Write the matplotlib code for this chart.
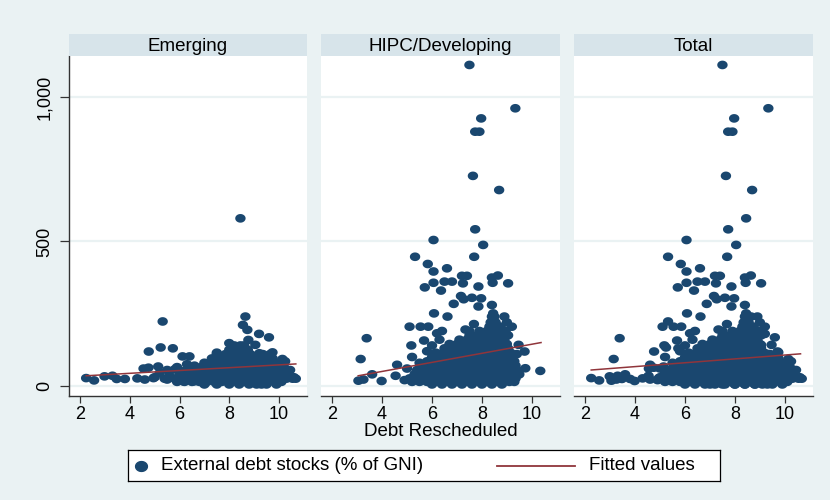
import matplotlib
matplotlib.use("Agg")
import matplotlib.pyplot as plt
import numpy as np
from matplotlib.path import Path
from matplotlib.lines import Line2D

plt.rcParams['font.family'] = ['Liberation Sans', 'DejaVu Sans']

# ---------------- data ----------------
panel_titles = ["Emerging", "HIPC/Developing", "Total"]
x_label = "Debt Rescheduled"
legend_labels = ["External debt stocks (% of GNI)", "Fitted values"]
x_ticks = [2, 4, 6, 8, 10]
y_ticks = [0, 500, 1000]
y_tick_labels = ["0", "500", "1,000"]

# Emerging: scattered points
emerging_pts = [
    (8.45, 580), (8.65, 240), (5.32, 223), (8.55, 211), (8.73, 194), (9.2, 180),
    (9.6, 168), (8.0, 148), (8.77, 159), (9.05, 142), (5.24, 133), (5.73, 130),
    (4.76, 119), (6.12, 102), (6.4, 102), (9.74, 116), (9.21, 113), (10.14, 93),
    (5.14, 67), (4.75, 63), (4.55, 60), (2.24, 27), (2.56, 19), (2.98, 33),
    (3.3, 35), (3.47, 24), (3.8, 24), (4.3, 26), (4.6, 22), (4.95, 27),
    (5.5, 22), (5.8, 57), (6.15, 16), (6.6, 16), (6.95, 22), (5.0, 30),
    (5.2, 45), (5.4, 25), (5.6, 35), (5.9, 20), (5.5, 55), (5.9, 65),
    (6.3, 75), (6.6, 70), (7.5, 115), (10.25, 85), (10.45, 55), (10.6, 30),
]
# Emerging: dense cluster, rows of (y, x positions)
emerging_rows = [
    (5,   [7.0, 7.5, 8.0, 8.4, 8.8, 9.1, 9.3, 9.5, 9.9]),
    (14,  [5.9, 6.2, 6.5, 6.8, 7.1, 7.4, 7.7, 8.0, 8.3, 8.6, 8.9, 9.2, 9.5, 9.8, 10.1]),
    (25,  [5.8, 6.1, 6.4, 6.7, 6.95, 7.2, 7.5, 7.8, 8.1, 8.35, 8.6, 8.9, 9.15, 9.4, 9.7, 10.0, 10.3, 10.55, 10.68]),
    (38,  [6.0, 6.3, 6.6, 6.9, 7.15, 7.4, 7.65, 7.9, 8.2, 8.45, 8.7, 9.0, 9.25, 9.5, 9.8, 10.05, 10.35]),
    (52,  [6.2, 6.5, 6.8, 7.05, 7.3, 7.6, 7.85, 8.1, 8.35, 8.6, 8.85, 9.1, 9.35, 9.6, 9.85, 10.15]),
    (66,  [6.6, 6.9, 7.2, 7.45, 7.7, 7.95, 8.2, 8.45, 8.7, 8.95, 9.2, 9.45, 9.7, 9.95, 10.2]),
    (80,  [7.0, 7.3, 7.55, 7.8, 8.05, 8.3, 8.55, 8.8, 9.05, 9.3, 9.55, 9.8, 10.05]),
    (95,  [7.3, 7.6, 7.9, 8.15, 8.4, 8.65, 8.9, 9.2, 9.5, 9.75]),
    (110, [7.5, 7.85, 8.1, 8.35, 8.6, 8.85, 9.35, 9.65]),
    (125, [8.0, 8.3, 8.5, 8.75]),
    (140, [8.2, 8.45, 8.6]),
]

# HIPC/Developing: scattered points
hipc_pts = [
    (7.5, 1111), (9.34, 961), (7.97, 926), (7.73, 880), (7.9, 880), (7.64, 727),
    (8.69, 678), (7.73, 542), (6.06, 505), (8.05, 488), (5.32, 447), (7.69, 447),
    (5.83, 422), (6.06, 396), (6.6, 407), (7.2, 381), (7.4, 381), (8.4, 375),
    (8.64, 382), (6.06, 357), (5.71, 341), (6.5, 361), (6.8, 361), (7.24, 355),
    (7.86, 344), (8.43, 357), (9.05, 355), (6.36, 330), (7.16, 311), (7.27, 300),
    (7.6, 305), (7.97, 303), (6.87, 284), (7.86, 275), (8.4, 280), (6.08, 251),
    (6.62, 240), (8.45, 251), (5.1, 205), (5.54, 205), (5.85, 205), (7.68, 214),
    (7.34, 195), (6.2, 182), (3.38, 165), (5.17, 140), (5.68, 157), (3.14, 93),
    (9.47, 142), (9.71, 119), (9.74, 61), (10.34, 52), (3.6, 40), (3.98, 17),
    (3.05, 18), (3.25, 22), (4.6, 73), (4.54, 35), (9.1, 35), (4.9, 20),
    (5.0, 60), (5.2, 100), (5.5, 80), (5.8, 120), (6.0, 140), (6.3, 160),
    (7.5, 190), (8.9, 240), (9.0, 220), (9.2, 205), (6.4, 190), (9.4, 110),
]
# HIPC/Developing: dense cluster, rows of (y, x positions)
hipc_rows = [
    (5,   [6.0, 6.4, 6.8, 7.2, 7.6, 8.0, 8.4, 8.8]),
    (14,  [5.2, 5.5, 5.8, 6.1, 6.4, 6.7, 7.0, 7.3, 7.6, 7.9, 8.2, 8.5, 8.8, 9.1, 9.3]),
    (26,  [5.1, 5.35, 5.6, 5.85, 6.1, 6.35, 6.6, 6.85, 7.1, 7.35, 7.6, 7.85, 8.1, 8.35, 8.6, 8.85, 9.1, 9.35]),
    (40,  [5.3, 5.55, 5.8, 6.05, 6.3, 6.55, 6.8, 7.05, 7.3, 7.55, 7.8, 8.05, 8.3, 8.55, 8.8, 9.05, 9.3, 9.5]),
    (55,  [5.4, 5.7, 5.95, 6.2, 6.45, 6.7, 6.95, 7.2, 7.45, 7.7, 7.95, 8.2, 8.45, 8.7, 8.95, 9.2, 9.4]),
    (70,  [5.6, 5.85, 6.1, 6.35, 6.6, 6.85, 7.1, 7.35, 7.6, 7.85, 8.1, 8.35, 8.6, 8.85, 9.1, 9.35]),
    (85,  [5.8, 6.05, 6.3, 6.55, 6.8, 7.05, 7.3, 7.55, 7.8, 8.05, 8.3, 8.55, 8.8, 9.05, 9.3]),
    (100, [6.0, 6.25, 6.5, 6.75, 7.0, 7.25, 7.5, 7.75, 8.0, 8.25, 8.5, 8.75, 9.0, 9.2]),
    (115, [6.15, 6.45, 6.7, 6.95, 7.2, 7.45, 7.7, 7.95, 8.2, 8.45, 8.7, 8.95, 9.15]),
    (130, [6.5, 6.8, 7.05, 7.3, 7.55, 7.8, 8.05, 8.3, 8.55, 8.8, 9.05]),
    (145, [6.7, 7.0, 7.25, 7.5, 7.75, 8.0, 8.25, 8.5, 8.75, 9.0]),
    (160, [7.1, 7.4, 7.65, 7.9, 8.15, 8.4, 8.65, 8.9]),
    (175, [7.5, 7.8, 8.05, 8.3, 8.55, 8.8, 9.05]),
    (190, [7.9, 8.2, 8.45, 8.7, 8.95]),
    (205, [8.3, 8.5, 8.75]),
    (220, [8.35, 8.55]),
    (240, [8.4, 8.5]),
]

# Fitted lines (endpoints)
fit_x = {"Emerging": [2.24, 10.68], "HIPC/Developing": [3.04, 10.37], "Total": [2.24, 10.63]}
fit_y = {"Emerging": [35, 76], "HIPC/Developing": [35, 150], "Total": [55, 111]}

# ---------------- assemble ----------------
def collect(pts, rows):
    xs = [p[0] for p in pts]
    ys = [p[1] for p in pts]
    for yv, xl in rows:
        xs += list(xl)
        ys += [yv] * len(xl)
    return xs, ys

ex, ey = collect(emerging_pts, emerging_rows)
hx, hy = collect(hipc_pts, hipc_rows)
series = {
    "Emerging": (ex, ey),
    "HIPC/Developing": (hx, hy),
    "Total": (ex + hx, ey + hy),
}

# ---------------- style ----------------
BG = "#EAF2F3"
STRIP = "#D7E4EA"
NAVY = "#1A476F"
MAROON = "#90353B"
AXC = "#333333"

# slightly wide ellipse marker
t = np.linspace(0, 2 * np.pi, 40)
ell = Path(np.column_stack([1.2 * np.cos(t), np.sin(t)]), closed=True)

W, H = 830, 500
fig = plt.figure(figsize=(8.3, 5.0), dpi=100, facecolor=BG)

def fx(px):
    return px / W

def fy(py):
    return 1 - py / H

panel_px = [(69, 307), (321, 560), (574, 813)]
top_px, bot_px, strip_top = 56, 396, 34

for i, (name, (l, r)) in enumerate(zip(panel_titles, panel_px)):
    ax = fig.add_axes([fx(l), fy(bot_px), fx(r - l), fy(top_px) - fy(bot_px)])
    ax.set_facecolor("white")
    ax.set_xlim(1.55, 11.13)
    ax.set_ylim(-35, 1142)
    for yt in y_ticks:
        ax.axhline(yt, color=BG, lw=1.6, zorder=1)
    xs, ys = series[name]
    ax.scatter(xs, ys, s=56, marker=ell, color=NAVY, edgecolors="none", zorder=3)
    ax.plot(fit_x[name], fit_y[name], color=MAROON, lw=1.1, zorder=4)
    for sp in ["top", "right"]:
        ax.spines[sp].set_visible(False)
    ax.spines["bottom"].set_color(AXC)
    ax.spines["bottom"].set_linewidth(1.0)
    ax.set_xticks(x_ticks)
    ax.tick_params(axis="x", length=5, width=0.9, color=AXC, labelsize=13, pad=2)
    if i == 0:
        ax.spines["left"].set_color(AXC)
        ax.spines["left"].set_linewidth(1.0)
        ax.set_yticks(y_ticks)
        ax.set_yticklabels(y_tick_labels, rotation=90, va="center")
        ax.tick_params(axis="y", length=6.5, width=0.9, color=AXC, labelsize=13, pad=5)
    else:
        ax.spines["left"].set_visible(False)
        ax.set_yticks([])
    # strip
    sax = fig.add_axes([fx(l), fy(top_px), fx(r - l), fy(strip_top) - fy(top_px)])
    sax.set_facecolor(STRIP)
    sax.set_xticks([]); sax.set_yticks([])
    for sp in sax.spines.values():
        sp.set_visible(False)
    sax.text(0.5, 0.45, name, ha="center", va="center", fontsize=13.5, transform=sax.transAxes)

fig.text(fx(441), fy(432), x_label, ha="center", va="center", fontsize=13.5)

# legend box
lax = fig.add_axes([fx(128), fy(481), fx(720 - 128), fy(450) - fy(481)])
lax.set_facecolor("white")
lax.set_xlim(128, 720); lax.set_ylim(0, 1)
lax.set_xticks([]); lax.set_yticks([])
for sp in lax.spines.values():
    sp.set_color("black"); sp.set_linewidth(0.9)
lax.add_line(Line2D([141], [0.5], marker=ell, markersize=8.5, color=NAVY, linestyle="none"))
lax.text(161, 0.5, legend_labels[0], fontsize=13.5, va="center", ha="left")
lax.add_line(Line2D([497, 575], [0.5, 0.5], color=MAROON, lw=1.3))
lax.text(589, 0.5, legend_labels[1], fontsize=13.5, va="center", ha="left")

fig.savefig("out.png", dpi=100, facecolor=BG)
